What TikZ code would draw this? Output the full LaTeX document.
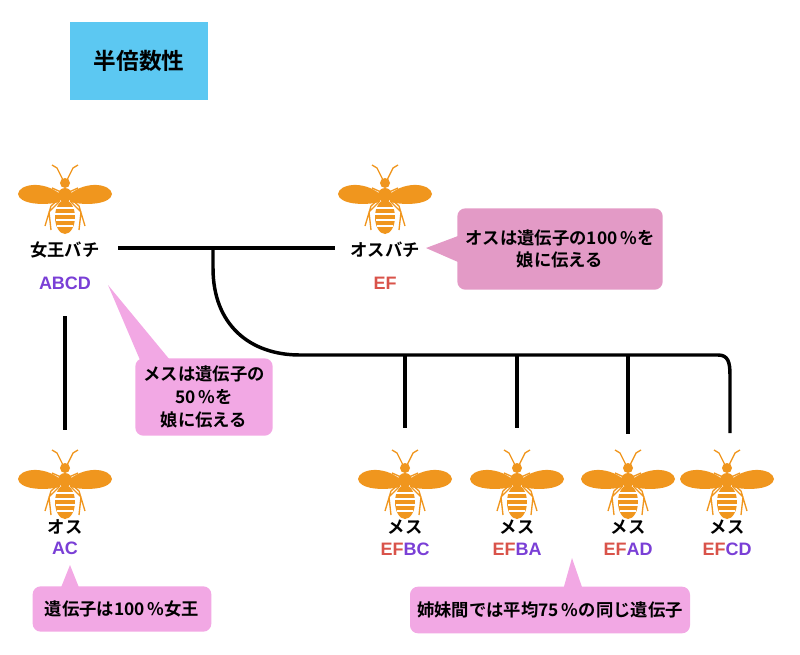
\documentclass[tikz,border=0pt]{standalone}
\usepackage{fontspec}
\setmainfont{Noto Sans CJK JP}[BoldFont={Noto Sans CJK JP Bold}]
\newfontfamily\latb{Liberation Sans}[BoldFont={Liberation Sans Bold}]
\usetikzlibrary{shapes.geometric}
\definecolor{beeC}{HTML}{F0961E}
\definecolor{pinkA}{HTML}{F2A8E4}
\definecolor{pinkB}{HTML}{E39AC6}
\definecolor{titleC}{HTML}{5CC8F2}
\definecolor{redG}{HTML}{D9534A}
\definecolor{purG}{HTML}{7A3FD6}
\tikzset{
  lbl/.style={font=\bfseries\fontsize{13}{15}\selectfont, inner sep=1pt},
  gen/.style={font=\latb\bfseries\fontsize{13.5}{15}\selectfont, inner sep=1pt},
  box/.style={font=\bfseries\fontsize{13}{17}\selectfont, align=center, rounded corners=6pt},
  ln/.style={line width=2.6pt, black},
  bee/.pic={
    \fill[beeC] (-5,-6) .. controls (-22,-20) and (-46,-16) .. (-47,-6) .. controls (-46,4) and (-22,6) .. (-5,2) -- cycle;
    \fill[beeC] (5,-6) .. controls (22,-20) and (46,-16) .. (47,-6) .. controls (46,4) and (22,6) .. (5,2) -- cycle;
    \draw[beeC, line width=1pt] (-2,-20) -- (-8,-32) -- (-13,-35) (2,-20) -- (8,-32) -- (13,-35);
    \draw[beeC, line width=1pt] (-5,-2) -- (-14,6) -- (-20,26) (5,-2) -- (14,6) -- (20,26)
      (-6,2) -- (-16,12) -- (-14,30) (6,2) -- (16,12) -- (14,30)
      (-4,-8) -- (-13,-12) (4,-8) -- (13,-12);
    \fill[beeC] (0,-17) ellipse (5 and 5);
    \fill[beeC] (0,-5) ellipse (7 and 7);
    \fill[beeC] (0,17) ellipse (10 and 17);
    \draw[white, line width=1.2pt] (-9,8) -- (9,8) (-10,14) -- (10,14) (-9.5,20) -- (9.5,20) (-8,26) -- (8,26);
  }
}
\begin{document}
\begin{tikzpicture}[x=0.75pt,y=-0.75pt]
\useasboundingbox (0,0) rectangle (800,654);
\node[fill=titleC, minimum width=103.5pt, minimum height=58.5pt, font=\bfseries\fontsize{17}{19}\selectfont] (title) at (139,61) {半倍数性};
\pic at (65,200) {bee};
\pic at (385,200) {bee};
\foreach \x in {65,405,517,628,727} \pic at (\x,485) {bee};
\node[lbl] (queen) at (65,250) {女王バチ};
\node[gen, purG] (qg) at (65,283) {ABCD};
\node[lbl] (drone) at (385,250) {オスバチ};
\node[gen, redG] (dg) at (385,283) {EF};
\node[lbl] (male) at (65,527) {オス};
\node[gen, purG] (mg) at (65,548) {AC};
\foreach \x/\n/\a/\b in {405/d1/EF/BC,517/d2/EF/BA,628/d3/EF/AD,727/d4/EF/CD}{
  \node[lbl] (\n) at (\x,527) {メス};
  \node[gen] (\n g) at (\x,549) {\textcolor{redG}{\a}\textcolor{purG}{\b}};
}
\coordinate (mL) at (118,248); \coordinate (mR) at (335,248);
\coordinate (cS) at (213,248); \coordinate (bL) at (300,355);
\coordinate (bR) at (718,355); \coordinate (bE) at (730,433);
\draw[ln] (mL) -- (mR);
\draw[ln] (cS) -- (213,268) .. controls (213,325) and (250,355) .. (bL) -- (bR) .. controls (728,355) and (730,362) .. (730,375) -- (bE);
\foreach \x/\e in {405/428,517/428,628/434}{\draw[ln] (\x,355) -- (\x,\e);}
\coordinate (qT) at (65,316); \coordinate (qB) at (65,430);
\draw[ln] (qT) -- (qB);
\fill[pinkB] (426,248) -- (458,236) -- (458,262) -- cycle;
\node[box, fill=pinkB, minimum width=154pt, minimum height=61pt] (c1) at (560,249) {オスは遺伝子の100\,\%を\\娘に伝える};
\fill[pinkA] (108,285) -- (170,360) -- (140,360) -- cycle;
\node[box, fill=pinkA, minimum width=103pt, minimum height=58pt] (c2) at (204,397) {メスは遺伝子の\\50\,\%を\\娘に伝える};
\fill[pinkA] (70,565) -- (60,590) -- (80,590) -- cycle;
\node[box, fill=pinkA, minimum width=134pt, minimum height=34pt] (c3) at (122,609) {遺伝子は100\,\%女王};
\fill[pinkA] (572,558) -- (563,590) -- (583,590) -- cycle;
\node[box, fill=pinkA, minimum width=210pt, minimum height=35pt] (c4) at (550,610) {姉妹間では平均75\,\%の同じ遺伝子};
\end{tikzpicture}
\end{document}
